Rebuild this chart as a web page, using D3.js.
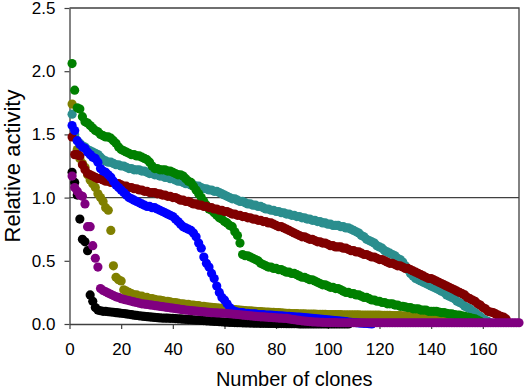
<!DOCTYPE html>
<html>
<head>
<meta charset="utf-8">
<script src="https://cdn.jsdelivr.net/npm/d3@7"></script>
<style>
  body { margin: 0; background: #fff; }
  svg { display: block; font-family: Arial, "Liberation Sans", sans-serif; }
  .tick text { font-size: 17px; fill: #000; }
  .axisTitle { font-size: 20px; fill: #000; }
</style>
</head>
<body>
<div id="chart"></div>
<script>
// data vars: relative activity per clone, sorted high to low (clone 1, 2, 3 ...)
const green = [
  2.06, 1.85, 1.71, 1.70, 1.64, 1.60, 1.59, 1.57, 1.55, 1.53,
  1.52, 1.50, 1.49, 1.48, 1.48, 1.47, 1.45, 1.43, 1.40, 1.38,
  1.37, 1.36, 1.35, 1.34, 1.34, 1.33, 1.33, 1.32, 1.31, 1.30,
  1.28, 1.25, 1.23, 1.23, 1.22, 1.22, 1.22, 1.21, 1.21, 1.20,
  1.19, 1.18, 1.18, 1.17, 1.15, 1.13, 1.12, 1.09, 1.06, 1.03,
  1.00, 0.97, 0.94, 0.91, 0.90, 0.88, 0.86, 0.84, 0.83, 0.81,
  0.80, 0.78, 0.77, 0.73, 0.70, 0.64, 0.55, 0.54, 0.54, 0.53,
  0.52, 0.51, 0.50, 0.48, 0.47, 0.46, 0.45, 0.45, 0.44, 0.44,
  0.43, 0.43, 0.42, 0.41, 0.41, 0.40, 0.40, 0.39, 0.38, 0.37,
  0.37, 0.36, 0.35, 0.35, 0.34, 0.33, 0.32, 0.31, 0.31, 0.30,
  0.29, 0.29, 0.28, 0.28, 0.27, 0.26, 0.25, 0.25, 0.24, 0.24,
  0.23, 0.23, 0.22, 0.21, 0.21, 0.20, 0.19, 0.19, 0.18, 0.18,
  0.17, 0.17, 0.16, 0.16, 0.16, 0.15, 0.15, 0.14, 0.14, 0.135,
  0.13, 0.13, 0.12, 0.12, 0.12, 0.11, 0.11, 0.11, 0.10, 0.10,
  0.10, 0.10, 0.095, 0.09, 0.09, 0.085, 0.08, 0.08, 0.075, 0.07,
  0.07, 0.065, 0.06, 0.055, 0.05, 0.045, 0.04, 0.03, 0.02
];
const teal = [
  1.66, 1.50, 1.45, 1.43, 1.41, 1.40, 1.38, 1.37, 1.36, 1.35,
  1.34, 1.32, 1.30, 1.29, 1.28, 1.28, 1.27, 1.26, 1.26, 1.25,
  1.25, 1.24, 1.23, 1.23, 1.22, 1.22, 1.22, 1.21, 1.21, 1.20,
  1.19, 1.19, 1.18, 1.18, 1.17, 1.17, 1.16, 1.16, 1.15, 1.15,
  1.14, 1.13, 1.13, 1.12, 1.11, 1.11, 1.10, 1.10, 1.09, 1.09,
  1.08, 1.07, 1.07, 1.06, 1.06, 1.05, 1.05, 1.04, 1.03, 1.02,
  1.01, 1.00, 0.99, 0.99, 0.98, 0.97, 0.97, 0.96, 0.95, 0.95,
  0.94, 0.94, 0.93, 0.93, 0.92, 0.91, 0.91, 0.90, 0.90, 0.89,
  0.89, 0.88, 0.88, 0.87, 0.87, 0.86, 0.86, 0.85, 0.85, 0.84,
  0.84, 0.83, 0.83, 0.82, 0.82, 0.81, 0.81, 0.80, 0.80, 0.79,
  0.79, 0.78, 0.78, 0.78, 0.77, 0.77, 0.76, 0.76, 0.75, 0.74,
  0.73, 0.72, 0.70, 0.69, 0.67, 0.66, 0.65, 0.64, 0.62, 0.61,
  0.60, 0.58, 0.57, 0.56, 0.55, 0.54, 0.52, 0.51, 0.49, 0.46,
  0.43, 0.40, 0.38, 0.36, 0.35, 0.34, 0.33, 0.32, 0.31, 0.30,
  0.29, 0.28, 0.27, 0.26, 0.25, 0.23, 0.22, 0.21, 0.20, 0.18,
  0.17, 0.16, 0.14, 0.13, 0.12, 0.10, 0.09, 0.07, 0.06, 0.04,
  0.03, 0.02
];
const darkRed = [
  1.48, 1.34, 1.34, 1.33, 1.26, 1.22, 1.19, 1.18, 1.17, 1.16,
  1.15, 1.15, 1.14, 1.13, 1.13, 1.12, 1.12, 1.11, 1.11, 1.10,
  1.09, 1.09, 1.08, 1.08, 1.07, 1.07, 1.06, 1.06, 1.05, 1.05,
  1.04, 1.04, 1.04, 1.03, 1.03, 1.02, 1.02, 1.01, 1.01, 1.00,
  1.00, 0.99, 0.98, 0.98, 0.97, 0.97, 0.96, 0.95, 0.95, 0.94,
  0.94, 0.93, 0.93, 0.92, 0.92, 0.91, 0.91, 0.90, 0.90, 0.89,
  0.89, 0.88, 0.87, 0.87, 0.86, 0.86, 0.85, 0.85, 0.84, 0.84,
  0.83, 0.83, 0.82, 0.82, 0.81, 0.81, 0.80, 0.80, 0.79, 0.78,
  0.77, 0.77, 0.76, 0.75, 0.74, 0.73, 0.72, 0.71, 0.70, 0.69,
  0.69, 0.68, 0.67, 0.67, 0.66, 0.65, 0.65, 0.64, 0.64, 0.63,
  0.62, 0.62, 0.61, 0.61, 0.61, 0.60, 0.60, 0.59, 0.58, 0.58,
  0.57, 0.57, 0.56, 0.55, 0.55, 0.54, 0.53, 0.53, 0.52, 0.51,
  0.51, 0.50, 0.49, 0.48, 0.48, 0.47, 0.46, 0.46, 0.45, 0.44,
  0.44, 0.43, 0.42, 0.41, 0.40, 0.39, 0.38, 0.37, 0.36, 0.36,
  0.35, 0.34, 0.33, 0.32, 0.31, 0.30, 0.29, 0.28, 0.27, 0.26,
  0.25, 0.24, 0.23, 0.21, 0.20, 0.19, 0.18, 0.16, 0.15, 0.13,
  0.12, 0.10, 0.095, 0.09, 0.08, 0.07, 0.06, 0.055, 0.04
];
const blue = [
  1.57, 1.53, 1.45, 1.42, 1.40, 1.39, 1.36, 1.34, 1.32, 1.31,
  1.28, 1.23, 1.21, 1.20, 1.18, 1.16, 1.13, 1.10, 1.08, 1.06,
  1.04, 1.02, 1.00, 0.99, 0.98, 0.97, 0.96, 0.95, 0.94, 0.93,
  0.93, 0.92, 0.92, 0.91, 0.90, 0.89, 0.88, 0.87, 0.86, 0.85,
  0.83, 0.81, 0.79, 0.77, 0.76, 0.75, 0.74, 0.72, 0.69, 0.64,
  0.60, 0.53, 0.48, 0.45, 0.40, 0.36, 0.30, 0.25, 0.21, 0.19,
  0.16, 0.13, 0.11, 0.10, 0.095, 0.09, 0.09, 0.085, 0.085, 0.08,
  0.08, 0.08, 0.075, 0.075, 0.075, 0.07, 0.07, 0.07, 0.068, 0.066,
  0.065, 0.064, 0.062, 0.06, 0.06, 0.058, 0.056, 0.055, 0.054, 0.052,
  0.05, 0.048, 0.046, 0.044, 0.042, 0.04, 0.038, 0.036, 0.034, 0.032,
  0.03, 0.028, 0.026, 0.024, 0.022, 0.02, 0.018, 0.016, 0.014, 0.012,
  0.01, 0.008, 0.006, 0.005, 0.004, 0.002, 0.0
];
const olive = [
  1.74, 1.48, 1.38, 1.31, 1.27, 1.24, 1.18, 1.14, 1.11, 1.08,
  1.03, 1.00, 0.97, 0.92, 0.90, 0.74, 0.46, 0.37, 0.35, 0.34,
  0.27, 0.26, 0.25, 0.24, 0.23, 0.23, 0.22, 0.22, 0.21, 0.21,
  0.20, 0.20, 0.195, 0.19, 0.19, 0.185, 0.18, 0.18, 0.175, 0.17,
  0.17, 0.165, 0.16, 0.16, 0.155, 0.155, 0.15, 0.15, 0.145, 0.145,
  0.14, 0.14, 0.136, 0.134, 0.132, 0.13, 0.128, 0.126, 0.124, 0.122,
  0.12, 0.118, 0.116, 0.114, 0.112, 0.11, 0.108, 0.106, 0.105, 0.104,
  0.102, 0.10, 0.099, 0.098, 0.096, 0.095, 0.094, 0.093, 0.092, 0.091,
  0.09, 0.088, 0.087, 0.085, 0.084, 0.083, 0.082, 0.082, 0.081, 0.08,
  0.08, 0.079, 0.079, 0.078, 0.078, 0.077, 0.077, 0.076, 0.076, 0.075,
  0.075, 0.075, 0.074, 0.074, 0.074, 0.073, 0.073, 0.073, 0.072, 0.072,
  0.072, 0.072, 0.071, 0.071, 0.071, 0.071, 0.07, 0.07, 0.07, 0.07,
  0.069, 0.069, 0.068, 0.068, 0.067, 0.067, 0.066, 0.066, 0.065, 0.065,
  0.064, 0.064, 0.063, 0.063, 0.062, 0.062, 0.061, 0.06, 0.06, 0.059,
  0.058, 0.058, 0.057, 0.056, 0.055, 0.054, 0.053, 0.052, 0.05, 0.049,
  0.047, 0.045, 0.043, 0.04, 0.038, 0.035, 0.033, 0.03
];
const purple = [
  1.17, 1.08, 1.05, 1.02, 1.01, 0.95, 0.77, 0.77, 0.62, 0.52,
  0.45, 0.28, 0.265, 0.255, 0.245, 0.235, 0.225, 0.215, 0.21, 0.20,
  0.195, 0.19, 0.185, 0.18, 0.175, 0.17, 0.165, 0.16, 0.158, 0.155,
  0.152, 0.149, 0.146, 0.143, 0.14, 0.137, 0.134, 0.131, 0.128, 0.125,
  0.122, 0.119, 0.116, 0.113, 0.11, 0.108, 0.106, 0.104, 0.102, 0.10,
  0.098, 0.096, 0.094, 0.092, 0.09, 0.089, 0.088, 0.087, 0.086, 0.085,
  0.083, 0.081, 0.079, 0.077, 0.075, 0.073, 0.071, 0.069, 0.067, 0.065,
  0.063, 0.061, 0.059, 0.057, 0.056, 0.055, 0.053, 0.052, 0.05, 0.049,
  0.047, 0.046, 0.045, 0.044, 0.04, 0.037, 0.034, 0.031, 0.028, 0.025,
  0.023, 0.021, 0.019, 0.017, 0.016, 0.015, 0.014, 0.013, 0.012, 0.012,
  0.011, 0.011, 0.011, 0.01, 0.01, 0.01, 0.01, 0.01, 0.01, 0.01,
  0.01, 0.01, 0.01, 0.01, 0.01, 0.01, 0.01, 0.01, 0.01, 0.01,
  0.01, 0.01, 0.01, 0.01, 0.01, 0.01, 0.01, 0.01, 0.01, 0.01,
  0.01, 0.01, 0.01, 0.01, 0.01, 0.01, 0.01, 0.01, 0.01, 0.01,
  0.01, 0.01, 0.01, 0.01, 0.01, 0.01, 0.01, 0.01, 0.01, 0.01,
  0.01, 0.01, 0.01, 0.01, 0.01, 0.01, 0.01, 0.01, 0.01, 0.01,
  0.01, 0.01, 0.01, 0.01, 0.01, 0.01, 0.01, 0.01, 0.01, 0.01,
  0.01, 0.01, 0.01, 0.01
];
const black = [
  1.20, 1.12, 1.02, 0.83, 0.67, 0.65, 0.58, 0.23, 0.18, 0.13,
  0.11, 0.105, 0.10, 0.10, 0.097, 0.095, 0.093, 0.09, 0.088, 0.085,
  0.083, 0.08, 0.077, 0.074, 0.07, 0.068, 0.065, 0.063, 0.06, 0.058,
  0.056, 0.054, 0.052, 0.05, 0.048, 0.047, 0.046, 0.046, 0.045, 0.045,
  0.043, 0.041, 0.04, 0.038, 0.037, 0.035, 0.034, 0.032, 0.031, 0.03,
  0.028, 0.027, 0.025, 0.024, 0.022, 0.021, 0.02, 0.018, 0.017, 0.015,
  0.014, 0.013, 0.012, 0.011, 0.01, 0.01, 0.009, 0.008, 0.008, 0.007,
  0.007, 0.006, 0.006, 0.005, 0.005, 0.005, 0.004, 0.004, 0.004, 0.003,
  0.003, 0.003, 0.003, 0.002, 0.002, 0.002, 0.002, 0.002, 0.001, 0.001,
  0.001, 0.001, 0.001, 0.001, 0.001, 0.0, 0.0, 0.0, 0.0, 0.0,
  0.0, 0.0, 0.0, 0.0, 0.0, 0.0, 0.0, 0.0
];

const xTicks = [0, 20, 40, 60, 80, 100, 120, 140, 160];
const yTicks = [0.0, 0.5, 1.0, 1.5, 2.0, 2.5];

// drawn bottom to top
const seriesList = [
  { name: "black", values: black, color: "#000000" },
  { name: "olive", values: olive, color: "#808000" },
  { name: "teal", values: teal, color: "#2b8e8e" },
  { name: "green", values: green, color: "#008000" },
  { name: "darkRed", values: darkRed, color: "#800000" },
  { name: "blue", values: blue, color: "#0000ff" },
  { name: "purple", values: purple, color: "#800080" }
];

// constants
const width = 526;
const height = 389;
const margin = { top: 8, right: 7, bottom: 65, left: 69.5 };
const dotRadius = 4.6;
const lineColor = "#404040";

const x = d3.scaleLinear()
  .domain([0, 174])
  .range([margin.left, width - margin.right]);

const y = d3.scaleLinear()
  .domain([0, 2.5])
  .range([height - margin.bottom, margin.top]);

const svg = d3.select("#chart")
  .append("svg")
  .attr("width", width)
  .attr("height", height);

// frame: top and right edges
svg.append("path")
  .attr("d", `M${x(0)},${y(2.5)}H${x(174)}V${y(0)}`)
  .attr("fill", "none")
  .attr("stroke", lineColor)
  .attr("stroke-width", 1.3);

// reference line at 1.0
svg.append("line")
  .attr("x1", x(0))
  .attr("x2", x(174))
  .attr("y1", y(1))
  .attr("y2", y(1))
  .attr("stroke", lineColor)
  .attr("stroke-width", 1.3);

const xAxis = g => g
  .attr("transform", `translate(0, ${y(0)})`)
  .call(d3.axisBottom(x).tickValues(xTicks).tickSize(5).tickSizeOuter(0).tickPadding(14))
  .call(g => g.select(".domain").attr("stroke", lineColor).attr("stroke-width", 1.3))
  .call(g => g.selectAll(".tick line").attr("stroke", lineColor).attr("stroke-width", 1.2));

const yAxis = g => g
  .attr("transform", `translate(${x(0)}, 0)`)
  .call(d3.axisLeft(y).tickValues(yTicks).tickFormat(d3.format(".1f")).tickSize(5).tickSizeOuter(0).tickPadding(9))
  .call(g => g.select(".domain").attr("stroke", lineColor).attr("stroke-width", 1.3))
  .call(g => g.selectAll(".tick line").attr("stroke", lineColor).attr("stroke-width", 1.2));

svg.append("g").call(xAxis);
svg.append("g").call(yAxis);

svg.selectAll("g[fill='none']").attr("font-family", null).attr("font-size", null);

// dots
svg.append("g")
  .selectAll("g")
  .data(seriesList)
  .join("g")
  .attr("fill", d => d.color)
  .selectAll("circle")
  .data(d => d.values.map((v, i) => ({ clone: i + 1, value: v })))
  .join("circle")
  .attr("cx", d => x(d.clone))
  .attr("cy", d => y(d.value))
  .attr("r", dotRadius);

// axis titles
svg.append("text")
  .attr("class", "axisTitle")
  .attr("x", (x(0) + x(174)) / 2)
  .attr("y", 386)
  .attr("text-anchor", "middle")
  .text("Number of clones");

svg.append("text")
  .attr("class", "axisTitle")
  .attr("transform", `translate(20, ${(y(0) + y(2.5)) / 2}) rotate(-90)`)
  .attr("text-anchor", "middle")
  .style("font-size", "22px")
  .text("Relative activity");
</script>
</body>
</html>
